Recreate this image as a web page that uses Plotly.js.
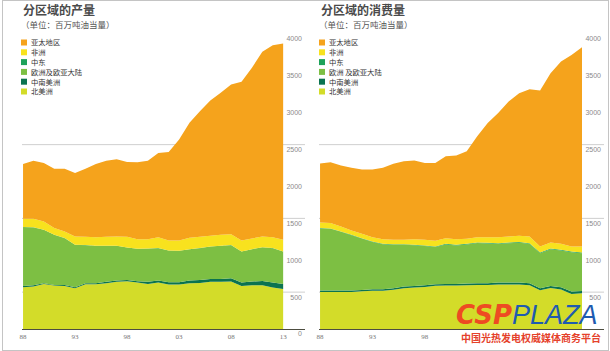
<!DOCTYPE html>
<html>
<head>
<meta charset="utf-8">
<script src="https://cdn.plot.ly/plotly-3.0.1.min.js"></script>
<style>
  body { margin: 0; padding: 0; background: #fff; }
  #wrap { position: relative; width: 610px; height: 351px; }
  #chart { width: 610px; height: 351px; }
  #frame { position: absolute; left: 2px; top: 0; width: 605px; height: 349px; border: 1px solid #c4c4c4; pointer-events: none; }
</style>
</head>
<body>
<div id="wrap"><div id="chart"></div><div id="frame"></div></div>
<script>
// ---- data (million tonnes oil equivalent) ----
const years = [1988,1989,1990,1991,1992,1993,1994,1995,1996,1997,1998,1999,2000,2001,2002,2003,2004,2005,2006,2007,2008,2009,2010,2011,2012,2013];
const tickYears = [1988,1993,1998,2003,2008,2013];
const tickText = ['88','93','98','03','08','13'];
const tickYearsRight = [1988,1993,1998];          // the rest are hidden under the watermark
const tickTextRight = ['88','93','98'];
const yTickVals = [0,500,1000,1500,2000,2500,3000,3500,4000];
const yTickValsRight = [500,1000,1500,2000,2500,3000,3500,4000];
const gridVals = [500,1500,2500];

const seriesNames = ['亚太地区','非洲','中东','欧洲及欧亚大陆','中南美洲','北美洲'];
const seriesNamesRight = ['亚太地区','非洲','中东','欧洲 及欧亚大陆','中南美洲','北美洲'];

// Production
const prodNA  = [566,575,611,589,584,553,607,607,621,639,648,629,611,629,602,602,621,625,639,639,643,584,593,593,562,543];
const prodSCA = [18,18,10,9,14,13,14,14,18,18,18,19,28,28,32,32,36,41,40,40,46,45,50,59,67,68];
const prodEU  = [798,784,724,679,634,575,516,507,489,471,439,439,452,439,430,426,425,430,439,449,448,421,439,457,467,439];
const prodME  = [1,1,1,1,1,1,1,1,1,1,1,1,1,1,1,1,1,1,1,1,1,1,1,1,1,1];
const prodAF  = [112,117,112,90,89,112,112,116,121,125,144,130,126,148,135,139,153,153,145,148,148,149,144,144,148,158];
const prodAP  = [743,788,793,806,852,861,924,993,1033,1047,1015,1042,1065,1142,1201,1368,1559,1703,1834,1925,2029,2152,2315,2506,2604,2663];

// Consumption
const consNA  = [503,503,503,503,511,520,520,533,554,563,571,585,589,589,594,598,597,604,603,602,593,527,555,536,476,484];
const consSCA = [18,18,18,18,19,19,19,20,21,21,22,22,22,22,22,23,24,25,26,27,28,26,29,30,31,32];
const consEU  = [842,838,796,750,696,642,610,590,568,550,532,504,536,522,531,544,538,526,535,540,534,475,498,498,534,512];
const consME  = [5,5,5,6,6,6,6,7,7,7,7,7,8,8,8,8,9,9,9,9,9,9,9,9,9,9];
const consAF  = [76,72,68,59,59,58,63,59,59,77,77,78,77,77,68,72,77,81,81,86,90,81,82,82,68,81];
const consAP  = [799,825,826,849,871,917,967,1030,1066,1066,1043,1056,1110,1133,1187,1368,1548,1683,1832,1934,1998,2116,2295,2471,2598,2702];

// colours: legend order (AP, AF, ME, EU, SCA, NA)
const colors = ['#F5A31C','#F8E21E','#1DA25A','#7DBF43','#0B7350','#D3DC29'];

// ---- build ----
const W = 610, H = 351;
const px = x => x / W;
const py = y => 1 - y / H;

const prodStack = [prodNA, prodSCA, prodEU, prodME, prodAF, prodAP];
const consStack = [consNA, consSCA, consEU, consME, consAF, consAP];
const stackColors = [colors[5], colors[4], colors[3], colors[2], colors[1], colors[0]];
const stackNames = [seriesNames[5], seriesNames[4], seriesNames[3], seriesNames[2], seriesNames[1], seriesNames[0]];

const traces = [];
prodStack.forEach((arr, i) => {
  traces.push({x: years, y: arr, name: stackNames[i], stackgroup: 'prod', mode: 'none',
    fillcolor: stackColors[i], line: {width: 0}, xaxis: 'x', yaxis: 'y', showlegend: false, hoverinfo: 'skip'});
});
consStack.forEach((arr, i) => {
  traces.push({x: years, y: arr, name: stackNames[i], stackgroup: 'cons', mode: 'none',
    fillcolor: stackColors[i], line: {width: 0}, xaxis: 'x2', yaxis: 'y2', showlegend: false, hoverinfo: 'skip'});
});

const yDomain = [22 / H, 317 / H];
const yRange = [0, 4000];
const xRange = [1987.9, 2015.1];

function xAxis(domain, tv, tt) {
  return {domain: domain, range: xRange, tickvals: tv, ticktext: tt,
    showline: true, linecolor: '#4d4d40', linewidth: 1, ticks: '', showgrid: false, zeroline: false,
    tickfont: {family: 'Liberation Serif, serif', size: 7, color: '#777'}, ticklabelstandoff: 1};
}
function yAxis(anchor, tv) {
  return {domain: yDomain, range: yRange, anchor: anchor, side: 'right',
    tickvals: tv, ticklabelposition: 'inside', ticklabelshift: 5, ticklabeloverflow: 'allow',
    showgrid: false, ticks: '', zeroline: false, showline: false,
    tickfont: {family: 'Liberation Sans, sans-serif', size: 7, color: '#8a8a8a'}};
}

const annotations = [];
const shapes = [];
gridVals.forEach(v => {
  shapes.push({type: 'line', xref: 'x domain', yref: 'y', x0: 0, x1: 1, y0: v, y1: v, layer: 'below',
    line: {color: '#cfcfcf', width: 1}});
  shapes.push({type: 'line', xref: 'x2 domain', yref: 'y2', x0: 0, x1: 1, y0: v, y1: v, layer: 'below',
    line: {color: '#cfcfcf', width: 1}});
});

function header(x0, title, legendNames) {
  annotations.push({xref: 'paper', yref: 'paper', x: px(x0), y: py(10), xanchor: 'left', yanchor: 'middle',
    text: '<b>' + title + '</b>', showarrow: false, borderpad: 0,
    font: {family: 'Noto Sans CJK SC', size: 12, color: '#4a4a4a'}});
  annotations.push({xref: 'paper', yref: 'paper', x: px(x0 - 2), y: py(24), xanchor: 'left', yanchor: 'middle',
    text: '（单位：百万吨油当量）', showarrow: false, borderpad: 0,
    font: {family: 'Noto Sans CJK SC', size: 8.5, color: '#555'}});
  legendNames.forEach((nm, i) => {
    const cy = 42.5 + 9.8 * i;
    shapes.push({type: 'rect', xref: 'paper', yref: 'paper', x0: px(x0 - 1), x1: px(x0 + 5), y0: py(cy + 3), y1: py(cy - 3),
      fillcolor: colors[i], line: {width: 0}});
    annotations.push({xref: 'paper', yref: 'paper', x: px(x0 + 8), y: py(cy), xanchor: 'left', yanchor: 'middle',
      text: nm, showarrow: false, borderpad: 0, font: {family: 'Noto Sans CJK SC', size: 7.3, color: '#333'}});
  });
}
header(22, '分区域的产量', seriesNames);
header(320, '分区域的消费量', seriesNamesRight);

// watermark logo
annotations.push({xref: 'paper', yref: 'paper', x: px(455), y: py(315), xanchor: 'left', yanchor: 'middle',
  text: '<b><i>CSP</i></b>', showarrow: false, borderpad: 0, height: 24, font: {family: 'DejaVu Sans', size: 26, color: '#EE4B22'}});
annotations.push({xref: 'paper', yref: 'paper', x: px(511), y: py(315), xanchor: 'left', yanchor: 'middle',
  text: '<i>PLAZA</i>', showarrow: false, borderpad: 0, height: 24, font: {family: 'Liberation Sans', size: 27, color: '#1F5BB0'}});
annotations.push({xref: 'paper', yref: 'paper', x: px(531), y: py(337), xanchor: 'center', yanchor: 'middle',
  text: '<b>中国光热发电权威媒体商务平台</b>', showarrow: false, borderpad: 0, font: {family: 'Noto Sans CJK SC', size: 10, color: '#E5412B'}});

const layout = {
  width: W, height: H,
  margin: {l: 0, r: 0, t: 0, b: 0, pad: 0},
  paper_bgcolor: '#ffffff', plot_bgcolor: 'rgba(0,0,0,0)',
  showlegend: false,
  xaxis: Object.assign(xAxis([22 / W, 305 / W], tickYears, tickText), {anchor: 'y'}),
  xaxis2: Object.assign(xAxis([319 / W, 604 / W], tickYearsRight, tickTextRight), {anchor: 'y2'}),
  yaxis: yAxis('x', yTickVals),
  yaxis2: yAxis('x2', yTickValsRight),
  annotations: annotations,
  shapes: shapes
};

Plotly.newPlot('chart', traces, layout, {staticPlot: true, displayModeBar: false});
</script>
</body>
</html>
